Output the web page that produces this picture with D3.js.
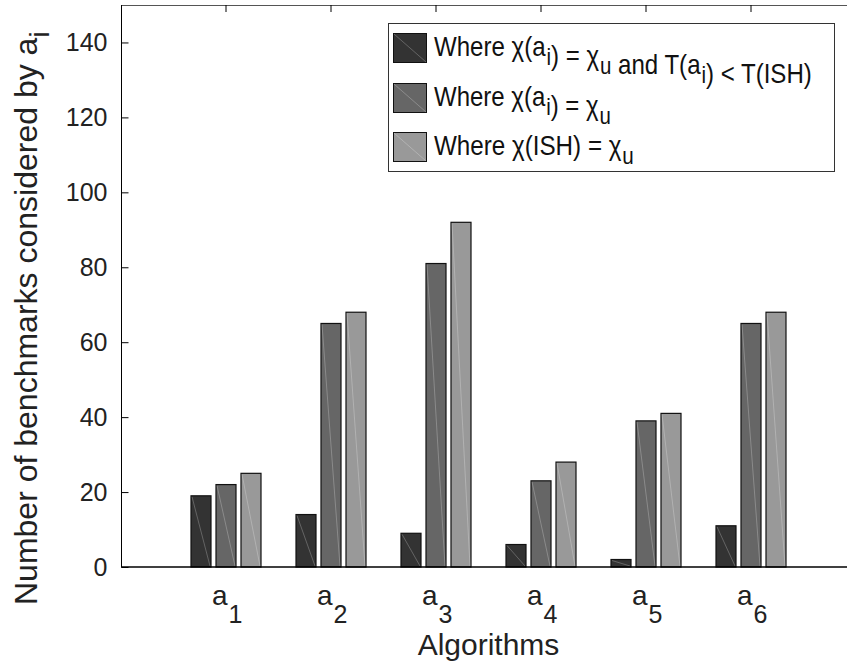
<!DOCTYPE html>
<html>
<head>
<meta charset="utf-8">
<script src="https://cdn.jsdelivr.net/npm/d3@7"></script>
<style>
  html, body { margin: 0; padding: 0; background: #fff; }
  svg { display: block; font-family: "Liberation Sans", Arial, Helvetica, sans-serif; }
</style>
</head>
<body>
<svg id="chart" width="847" height="665"></svg>
<script>
// Algorithms on the x axis (a_1 ... a_6)
const algorithms = ["1", "2", "3", "4", "5", "6"];
// Benchmark counts per algorithm
const fasterAndUnique = [19, 14, 9, 6, 2, 11];   // χ(a_i) = χ_u and T(a_i) < T(ISH)
const algoUnique      = [22, 65, 81, 23, 39, 65]; // χ(a_i) = χ_u
const ishUnique       = [25, 68, 92, 28, 41, 68]; // χ(ISH) = χ_u
const yTicks = [0, 20, 40, 60, 80, 100, 120, 140];

const series = [
  { key: "s1", values: fasterAndUnique, fill: "#333333" },
  { key: "s2", values: algoUnique,      fill: "#666666" },
  { key: "s3", values: ishUnique,       fill: "#999999" }
];

const svg = d3.select("#chart");
const plot = { left: 121, right: 856, top: 5, bottom: 567 };

const x = d3.scaleLinear().domain([0, 7]).range([plot.left, plot.right]);
const y = d3.scaleLinear().domain([0, 150]).range([plot.bottom, plot.top]);
const inner = d3.scaleBand().domain(series.map(s => s.key)).range([-35, 35]).paddingInner(0.2);

// bars
const groups = svg.append("g");
series.forEach(s => {
  const g = groups.append("g");
  s.values.forEach((v, i) => {
    const x0 = x(i + 1) + inner(s.key);
    const w = inner.bandwidth();
    g.append("rect")
      .attr("x", x0).attr("y", y(v))
      .attr("width", w).attr("height", y(0) - y(v))
      .attr("fill", s.fill)
      .attr("stroke", "#111").attr("stroke-width", 1.2);
    // faint rendering diagonal across each bar face
    g.append("line")
      .attr("x1", x0 + 1).attr("y1", y(v) + 1)
      .attr("x2", x0 + w - 1).attr("y2", y(0) - 1)
      .attr("stroke", "#ffffff").attr("stroke-opacity", 0.3).attr("stroke-width", 0.8);
  });
});

// axis frame
svg.append("line").attr("x1", plot.left).attr("x2", 847).attr("y1", plot.top + 0.5).attr("y2", plot.top + 0.5)
  .attr("stroke", "#555").attr("stroke-width", 1);
svg.append("line").attr("x1", plot.left + 0.5).attr("x2", plot.left + 0.5).attr("y1", plot.top).attr("y2", plot.bottom)
  .attr("stroke", "#000").attr("stroke-width", 1);
svg.append("line").attr("x1", plot.left).attr("x2", 847).attr("y1", plot.bottom).attr("y2", plot.bottom)
  .attr("stroke", "#000").attr("stroke-width", 1.5);

// y axis ticks and labels
const yAxis = d3.axisLeft(y).tickValues(yTicks).tickSize(-7).tickPadding(14);
const gy = svg.append("g").attr("transform", `translate(${plot.left + 0.5},0)`).call(yAxis);
gy.select(".domain").remove();
gy.selectAll(".tick line").attr("stroke", "#000");
gy.selectAll(".tick text").attr("font-size", 25).attr("fill", "#222")
  .attr("font-family", "'Liberation Sans', Arial, sans-serif");

// top ticks at category positions
svg.append("g").selectAll("line").data(algorithms).join("line")
  .attr("x1", (d, i) => x(i + 1)).attr("x2", (d, i) => x(i + 1))
  .attr("y1", plot.top).attr("y2", plot.top + 7)
  .attr("stroke", "#000");

// x tick labels: a with numeric subscript
const xl = svg.append("g").attr("fill", "#222");
algorithms.forEach((d, i) => {
  const t = xl.append("text").attr("x", x(i + 1) - 14).attr("y", 605).attr("font-size", 28);
  t.append("tspan").text("a");
  t.append("tspan").attr("dy", 18).attr("dx", 1).attr("font-size", 25).text(d);
});

// x axis title
svg.append("text").attr("x", (plot.left + plot.right) / 2).attr("y", 655).attr("text-anchor", "middle")
  .attr("font-size", 30).attr("fill", "#222").text("Algorithms");

// y axis title: main run centred on the plot, subscript hanging past its end
const ytHolder = svg.append("g").attr("transform", "translate(37,0) rotate(-90)");
const yt = ytHolder.append("text").attr("x", -605).attr("y", 0)
  .attr("font-size", 32).attr("fill", "#222");
yt.append("tspan").text("Number of benchmarks considered by a");
yt.append("tspan").attr("dy", 12).attr("font-size", 27).text("i");

// legend
const legend = svg.append("g");
legend.append("rect").attr("x", 388.5).attr("y", 23.5).attr("width", 446).attr("height", 148)
  .attr("fill", "#fff").attr("stroke", "#333").attr("stroke-width", 1);

const rows = [
  [["Where χ(a", "i"], [") = χ", "u"], [" and T(a", "i"], [") < T(ISH)", null]],
  [["Where χ(a", "i"], [") = χ", "u"]],
  [["Where χ(ISH) = χ", "u"]]
];
const rowY = [33, 83, 132];
const rowWidth = [378, 177, 200];
rows.forEach((parts, r) => {
  const s = series[r];
  legend.append("rect").attr("x", 393.5).attr("y", rowY[r] + 0.5).attr("width", 33).attr("height", 29)
    .attr("fill", s.fill).attr("stroke", "#111").attr("stroke-width", 1);
  legend.append("line").attr("x1", 394).attr("y1", rowY[r] + 1).attr("x2", 426).attr("y2", rowY[r] + 29)
    .attr("stroke", "#fff").attr("stroke-opacity", 0.3).attr("stroke-width", 0.8);
  const holder = legend.append("g");
  const t = holder.append("text").attr("x", 0).attr("y", 0)
    .attr("font-size", 27).attr("fill", "#111");
  parts.forEach(([main, sub]) => {
    t.append("tspan").text(main);
    if (sub) {
      t.append("tspan").attr("dy", 9).attr("dx", 1).attr("font-size", 23).text(sub);
      t.append("tspan").attr("dy", -9).text("");
    }
  });
  // the legend font is drawn condensed to fit its row
  const bb = t.node().getBBox();
  const sx = rowWidth[r] / bb.width;
  holder.attr("transform", `translate(${434 - bb.x * sx},${rowY[r] + 23}) scale(${sx},1)`);
});
</script>
</body>
</html>
